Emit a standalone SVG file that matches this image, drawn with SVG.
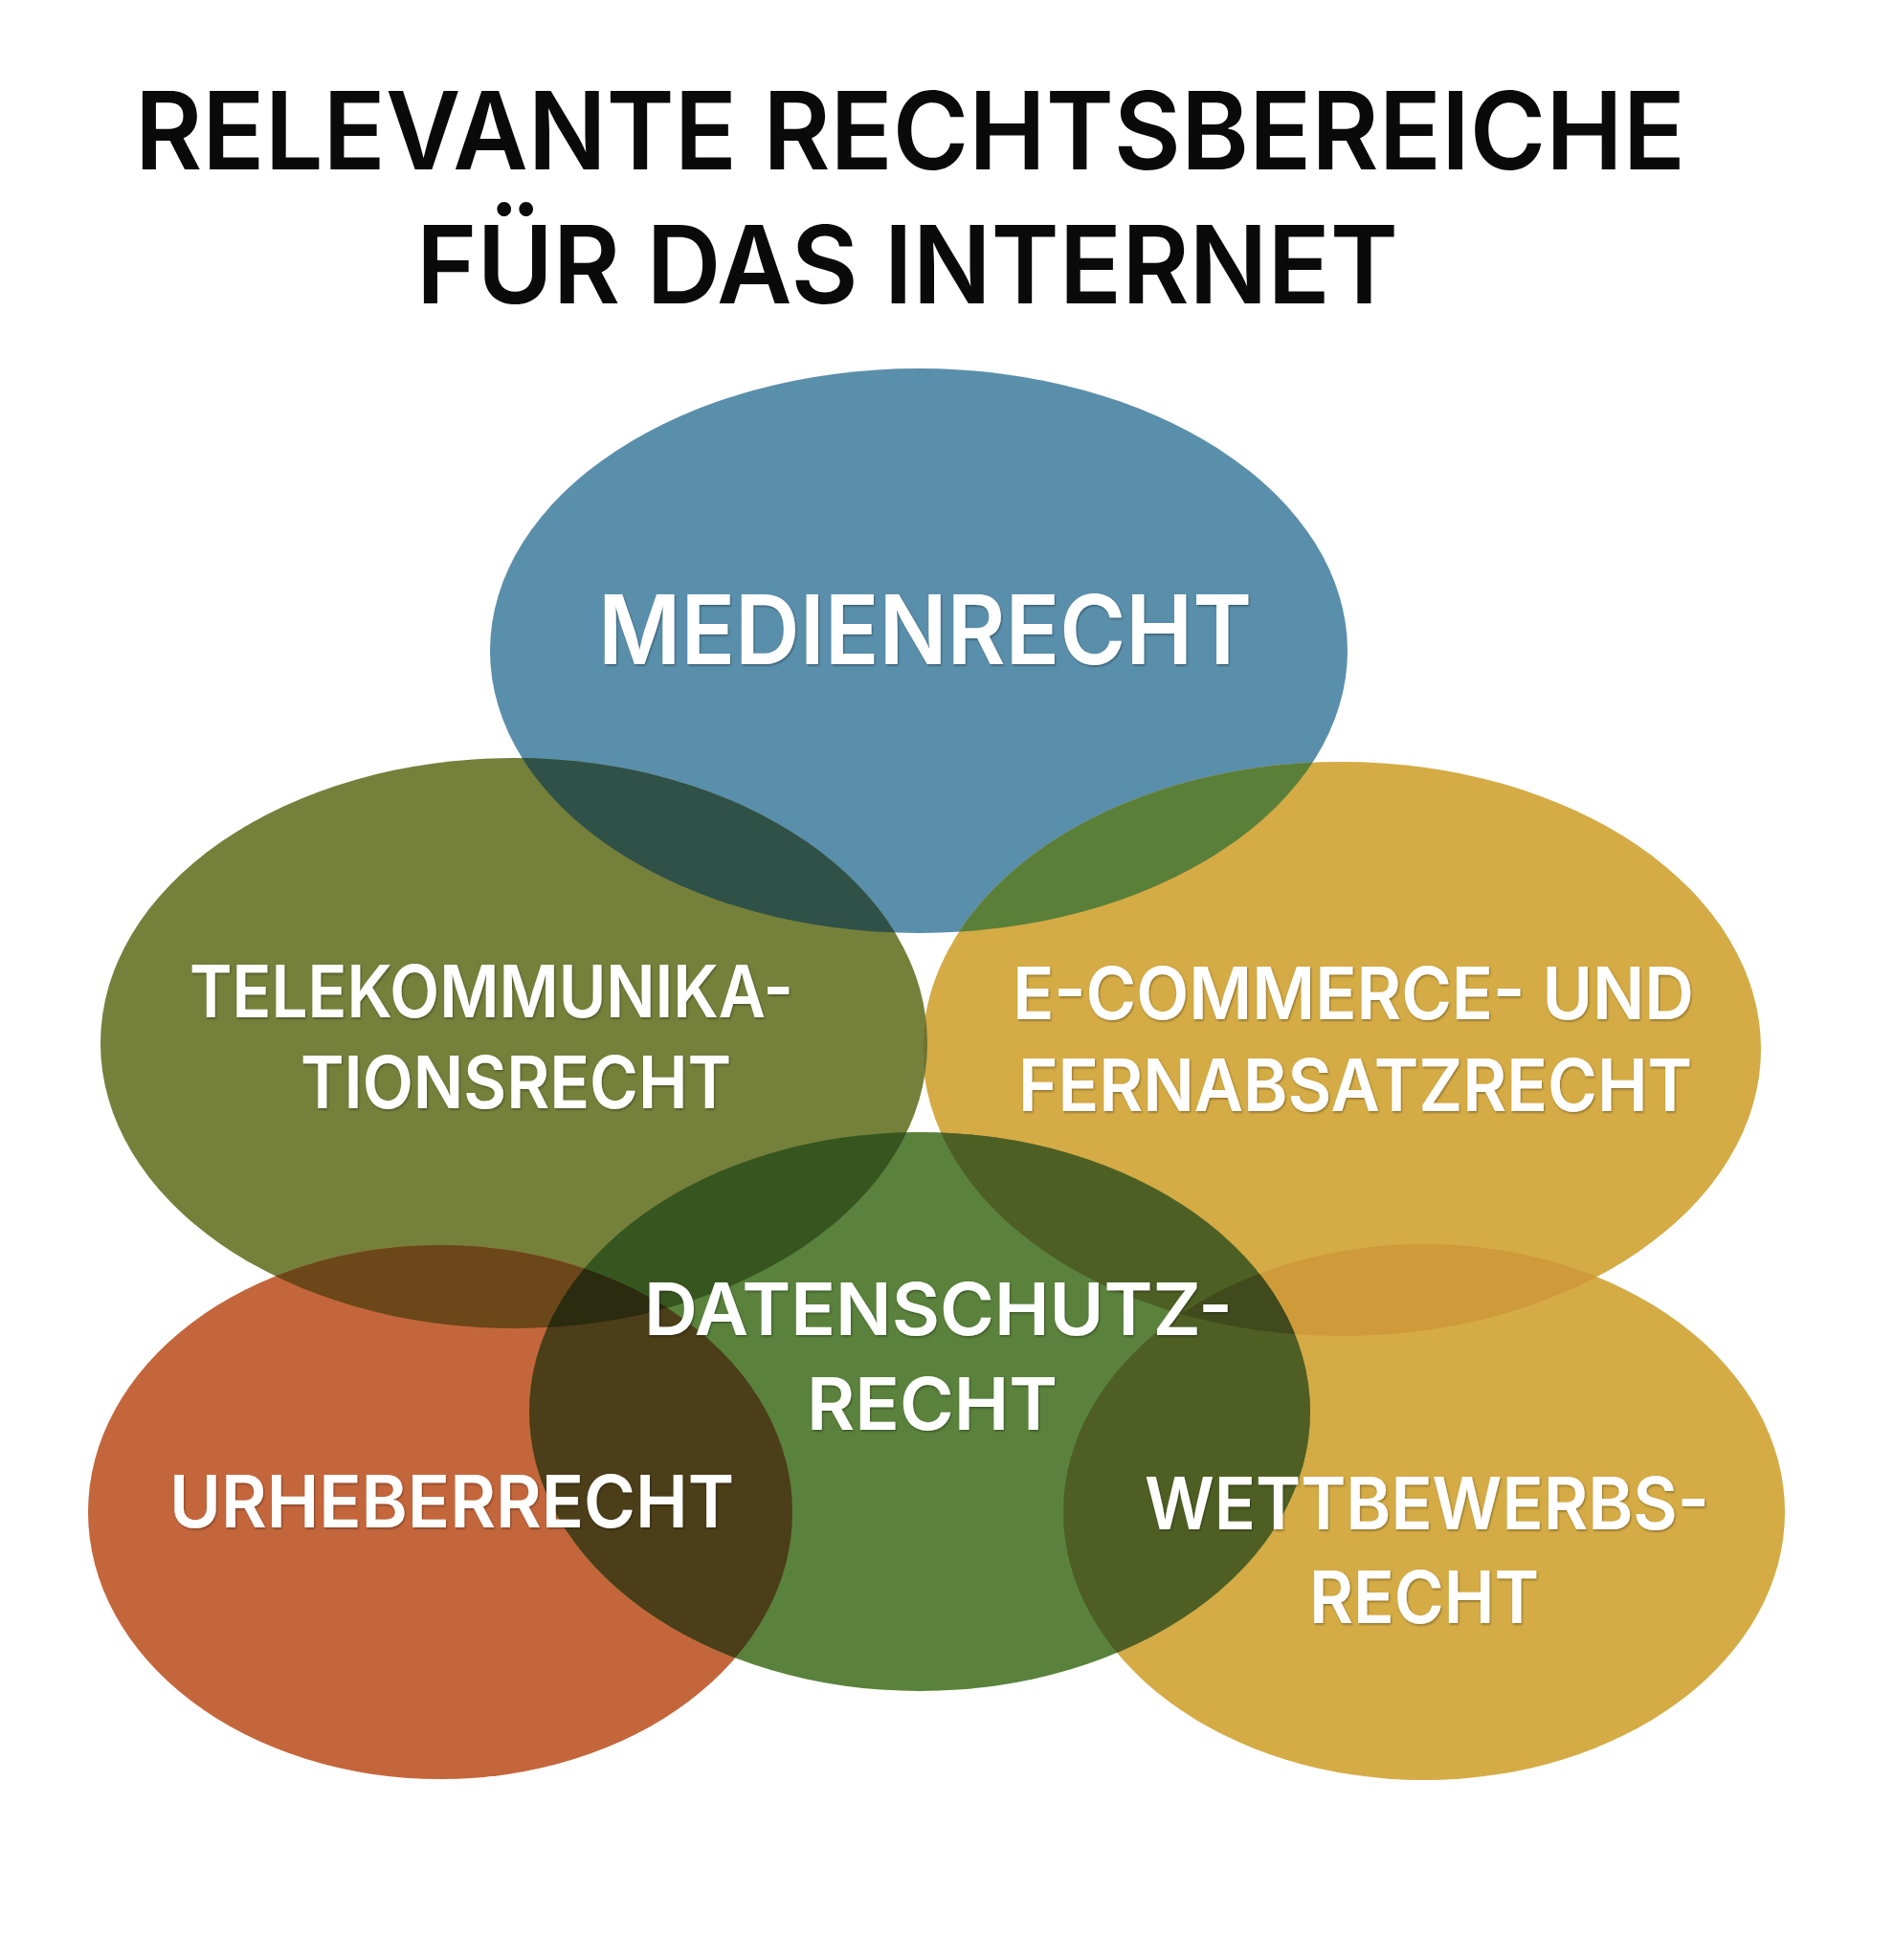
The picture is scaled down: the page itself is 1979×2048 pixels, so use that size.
<svg xmlns="http://www.w3.org/2000/svg" width="1979" height="2048" viewBox="0 0 1979 2048">
<style>
.title{font-family:Inter,"Liberation Sans",sans-serif;font-weight:600;font-size:113px;fill:#0a0a0a}
.lbl{font-family:Inter,"Liberation Sans",sans-serif;font-weight:600;font-size:76px;fill:#ffffff;filter:url(#sh)}
.big{font-size:100px}
</style>
<defs>
<filter id="sh" x="-5%" y="-20%" width="110%" height="140%">
<feDropShadow dx="1" dy="1.5" stdDeviation="1" flood-color="#000" flood-opacity="0.35"/>
</filter>
<clipPath id="cM"><ellipse cx="960" cy="680" rx="448" ry="295"/></clipPath>
<clipPath id="cT"><ellipse cx="537" cy="1090" rx="432" ry="298"/></clipPath>
<clipPath id="cE"><ellipse cx="1402" cy="1096" rx="438" ry="300"/></clipPath>
<clipPath id="cD"><ellipse cx="961" cy="1475" rx="408" ry="292"/></clipPath>
<clipPath id="cU"><ellipse cx="460" cy="1580" rx="368" ry="279"/></clipPath>
<clipPath id="cW"><ellipse cx="1488" cy="1580" rx="377" ry="280"/></clipPath>
</defs>
<rect width="1979" height="2048" fill="#ffffff"/>
<g id="title">
<text class="title" x="141" y="177" textLength="1620" lengthAdjust="spacingAndGlyphs">RELEVANTE RECHTSBEREICHE</text>
<text class="title" x="435" y="317" textLength="1026" lengthAdjust="spacingAndGlyphs">FÜR DAS INTERNET</text>
</g>
<g id="node-medienrecht"><ellipse cx="960" cy="680" rx="448" ry="295" fill="#5a8fab"/></g>
<g id="node-telekommunikationsrecht"><ellipse cx="537" cy="1090" rx="432" ry="298" fill="#75803b"/></g>
<g id="node-ecommerce"><ellipse cx="1402" cy="1096" rx="438" ry="300" fill="#d4ab45"/></g>
<g id="node-urheberrecht"><ellipse cx="460" cy="1580" rx="368" ry="279" fill="#c4663c"/></g>
<g id="node-wettbewerbsrecht"><ellipse cx="1488" cy="1580" rx="377" ry="280" fill="#d4ab45"/></g>
<g id="node-datenschutzrecht"><ellipse cx="961" cy="1475" rx="408" ry="292" fill="#5a823c"/></g>
<g id="overlaps">
<ellipse cx="537" cy="1090" rx="432" ry="298" fill="#2f5148" clip-path="url(#cM)"/>
<ellipse cx="1402" cy="1096" rx="438" ry="300" fill="#5a7f38" clip-path="url(#cM)"/>
<ellipse cx="1402" cy="1096" rx="438" ry="300" fill="#6c7432" clip-path="url(#cT)"/>
<ellipse cx="537" cy="1090" rx="432" ry="298" fill="#6b4719" clip-path="url(#cU)"/>
<ellipse cx="1402" cy="1096" rx="438" ry="300" fill="#cf9a3a" clip-path="url(#cW)"/>
<ellipse cx="961" cy="1475" rx="408" ry="292" fill="#37561f" clip-path="url(#cT)"/>
<ellipse cx="961" cy="1475" rx="408" ry="292" fill="#4e5f24" clip-path="url(#cE)"/>
<ellipse cx="961" cy="1475" rx="408" ry="292" fill="#4b3e18" clip-path="url(#cU)"/>
<ellipse cx="961" cy="1475" rx="408" ry="292" fill="#4f5f24" clip-path="url(#cW)"/>
<g clip-path="url(#cT)"><ellipse cx="961" cy="1475" rx="408" ry="292" fill="#2b2b10" clip-path="url(#cU)"/></g>
<g clip-path="url(#cE)"><ellipse cx="961" cy="1475" rx="408" ry="292" fill="#404a1c" clip-path="url(#cW)"/></g>
</g>
<g id="labels">
<text id="label-medienrecht" class="lbl big" x="625" y="694" textLength="683" lengthAdjust="spacingAndGlyphs">MEDIENRECHT</text>
<g id="label-telekommunikationsrecht">
<text class="lbl" x="198" y="1063" textLength="631" lengthAdjust="spacingAndGlyphs">TELEKOMMUNIKA-</text>
<text class="lbl" x="314" y="1158" textLength="450" lengthAdjust="spacingAndGlyphs">TIONSRECHT</text>
</g>
<g id="label-ecommerce">
<text class="lbl" x="1058" y="1065" textLength="712" lengthAdjust="spacingAndGlyphs">E-COMMERCE- UND</text>
<text class="lbl" x="1064" y="1161" textLength="704" lengthAdjust="spacingAndGlyphs">FERNABSATZRECHT</text>
</g>
<g id="label-datenschutzrecht">
<text class="lbl" x="673" y="1395" textLength="615" lengthAdjust="spacingAndGlyphs">DATENSCHUTZ-</text>
<text class="lbl" x="843" y="1494" textLength="262" lengthAdjust="spacingAndGlyphs">RECHT</text>
</g>
<text id="label-urheberrecht" class="lbl" x="177" y="1596" textLength="590" lengthAdjust="spacingAndGlyphs">URHEBERRECHT</text>
<g id="label-wettbewerbsrecht">
<text class="lbl" x="1196" y="1598" textLength="590" lengthAdjust="spacingAndGlyphs">WETTBEWERBS-</text>
<text class="lbl" x="1368" y="1696" textLength="240" lengthAdjust="spacingAndGlyphs">RECHT</text>
</g>
</g>
</svg>
